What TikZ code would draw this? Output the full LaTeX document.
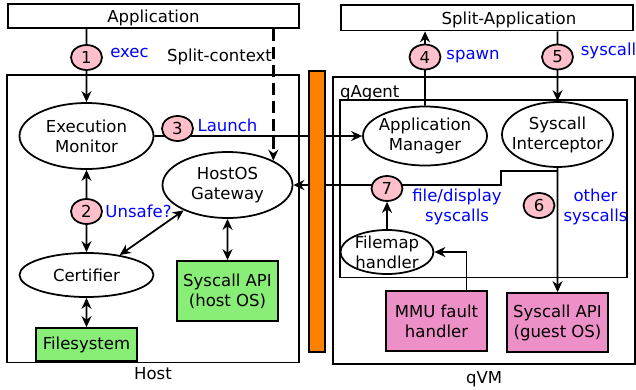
\documentclass[tikz,border=0pt]{standalone}
\usepackage{fontspec}
\setmainfont{DejaVu Sans}
\usetikzlibrary{shapes,arrows.meta}
\definecolor{bubble}{HTML}{FFC0CB}
\definecolor{hostgreen}{HTML}{88EE77}
\definecolor{guestpink}{HTML}{EE90C8}
\definecolor{barorange}{HTML}{FF8000}

\begin{document}
\begin{tikzpicture}[scale=0.1, font=\fontsize{9.4}{11.4}\selectfont, line width=1pt, >={Stealth[length=2.2mm,width=2mm]}]
        \tikzstyle{every node}+=[inner sep=0pt]
        \tikzstyle{box}=[draw, rectangle, minimum width=20.2mm, minimum height=12mm, align=center]
        \tikzstyle{ell}=[draw, ellipse, inner sep=-1.5mm, align=center]
        \tikzstyle{num}=[draw, ellipse, fill=bubble, minimum width=6.2mm, minimum height=5mm]
        \tikzstyle{lbl}=[text=blue, align=center]
        \useasboundingbox (0,0) rectangle (127.2,-77.8);
        \node [draw, minimum width=58.2mm, minimum height=4.8mm, text depth=0pt] (app) at (30.7,-3.2) {Application};
        \node [draw, minimum width=58.4mm, minimum height=5.1mm, text depth=0pt] (splitapp) at (97.4,-3.55) {\hspace*{8.8mm}Split-Application};
        \node [draw, minimum width=58.4mm, minimum height=57.5mm, label={[yshift=-0.7mm]below:Host}] (host) at (30.6,-43.75) {};
        \node [draw, minimum width=60.4mm, minimum height=57.4mm, label={[yshift=-1.1mm]below:qVM}] (qvm) at (96.8,-44.1) {};
        \node [draw, minimum width=57.4mm, minimum height=35.5mm, label={[anchor=south west, yshift=-0.5mm]north west:qAgent}] (qagent) at (96.7,-37.75) {};
        \node [ell, minimum width=26.8mm, minimum height=13.2mm] (execmon) at (17.3,-27.2) {Execution\\Monitor};
        \node [ell, minimum width=26mm, minimum height=13.2mm] (gateway) at (45.5,-37) {HostOS\\Gateway};
        \node [ell, minimum width=26.8mm, minimum height=8.8mm] (certifier) at (17.3,-55) {Certifier};
        \node [ell, minimum width=24.8mm, minimum height=11.8mm] (appmgr) at (85,-27.2) {Application\\Manager};
        \node [ell, minimum width=22.2mm, minimum height=13mm] (intercept) at (111.5,-26.9) {Syscall\\Interceptor};
        \node [ell, minimum width=18.6mm, minimum height=8.8mm] (filemap) at (77.4,-50.4) {Filemap\\handler};
        \node [box, fill=hostgreen, minimum height=6.6mm] (filesys) at (17.3,-68.9) {Filesystem};
        \node [box, fill=hostgreen] (hostapi) at (45.5,-58.2) {Syscall API\\(host OS)};
        \node [box, fill=guestpink] (mmu) at (87.3,-64.2) {MMU fault\\handler};
        \node [box, fill=guestpink, minimum height=11.8mm] (guestapi) at (111.5,-64.5) {Syscall API\\(guest OS)};
        \node [lbl] (exec) at (25.9,-10.6) {exec};
        \node (splitctx) at (43.9,-11.4) {Split-context};
        \node [lbl] (launch) at (45.5,-25) {Launch};
        \node [lbl] (unsafe) at (27.7,-42.2) {Unsafe?};
        \node [lbl] (spawn) at (94.6,-11.4) {spawn};
        \node [lbl, anchor=west] (syscall) at (116,-10.1) {syscall};
        \node [lbl] (fdsys) at (91.4,-41.3) {file/display\\syscalls};
        \node [lbl] (othersys) at (119.1,-41.3) {other\\syscalls};
        \draw [->] (app.south -| execmon) -- (execmon);
        \draw [->, line width=1.4pt, dash pattern=on 2.4mm off 1.2mm] (app.south -| gateway.28) -- (gateway.28);
        \draw [->] (execmon) -- (appmgr);
        \draw [->] (appmgr) -- (appmgr |- splitapp.south);
        \draw [->] (splitapp.south -| intercept) -- (intercept);
        \draw [->] (intercept) -- (guestapi);
        \draw [->] (intercept.south) ++(0,-0.6) -| (100.2,-37) -- (gateway);
        \draw [->] (mmu.north) ++(6,0) |- (filemap);
        \draw [<->] (certifier.31) -- (gateway.210);
        \draw [<->] (gateway) -- (hostapi);
        \draw [<->] (certifier) -- (filesys);
        \node [draw, fill=barorange, minimum width=3.2mm, minimum height=56.2mm] (bar) at (63.4,-42.3) {};
        \node [num] (n1) at (17.3,-11.5) {1};
        \node [num] (n2) at (17.3,-42.3) {2};
        \node [num] (n3) at (35.5,-25.7) {3};
        \node [num] (n4) at (85,-11.4) {4};
        \node [num] (n5) at (111.5,-11.4) {5};
        \node [num] (n6) at (107.8,-41.1) {6};
        \node [num] (n7) at (77.4,-37.7) {7};
        \draw [->] (n2) -- (execmon);
        \draw [->] (n2) -- (certifier);
        \draw [->] (filemap) -- (n7);
\end{tikzpicture}
\end{document}
